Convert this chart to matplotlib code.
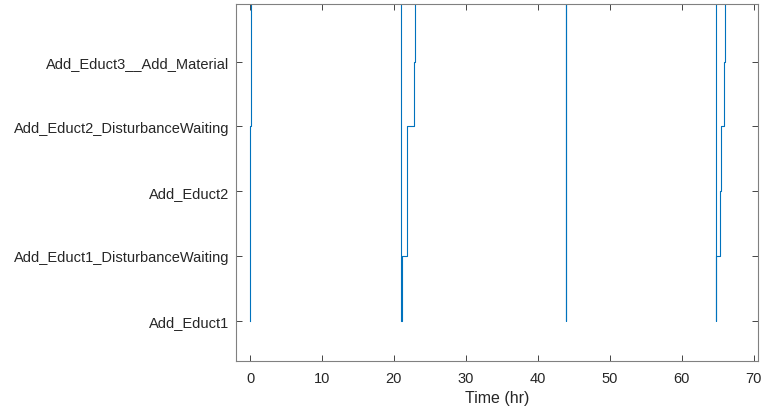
import matplotlib
matplotlib.use("Agg")
import matplotlib.pyplot as plt

state_labels = ["Add_Educt1", "Add_Educt1_DisturbanceWaiting", "Add_Educt2",
                "Add_Educt2_DisturbanceWaiting", "Add_Educt3__Add_Material"]
state_ticks = [1, 2, 3, 4, 5]

# event times (hr) and state index entered at each time (6 = state above view)
times = [0.0, 0.02, 0.04, 0.06, 0.08, 0.2,
         21.05, 21.1, 21.75, 21.8, 22.8, 22.9,
         43.85, 43.87, 43.89, 43.91, 43.93, 43.98,
         64.75, 64.8, 65.35, 65.4, 65.9, 66.0,
         66.5]
states = [1, 2, 3, 4, 5, 6,
          1, 2, 3, 4, 5, 6,
          1, 2, 3, 4, 5, 6,
          1, 2, 3, 4, 5, 6,
          6]
x_ticks = [0, 10, 20, 30, 40, 50, 60, 70]

plt.rcParams['font.family'] = ['Liberation Sans', 'DejaVu Sans']
fig = plt.figure(figsize=(7.63, 4.14), dpi=100)
ax = fig.add_axes([236/763, 1-362/414, (758-236)/763, (362-5)/414])

ax.plot(times, states, drawstyle='steps-post', color='#0072BD', lw=0.8)

ax.set_xlim(-1.95, 70.6)
ax.set_ylim(0.378, 5.89)
ax.set_xticks(x_ticks)
ax.set_yticks(state_ticks)
ax.set_yticklabels(state_labels)
ax.set_xlabel("Time (hr)", fontsize=11.5, color='#262626', labelpad=4)

ax.tick_params(direction='in', length=4, width=0.6, colors='#262626',
               labelsize=10.5, top=True, right=True, pad=7)
ax.tick_params(axis='y', pad=5)
for s in ax.spines.values():
    s.set_color('#808080')
    s.set_linewidth(0.8)

fig.savefig("out.png", dpi=100)
